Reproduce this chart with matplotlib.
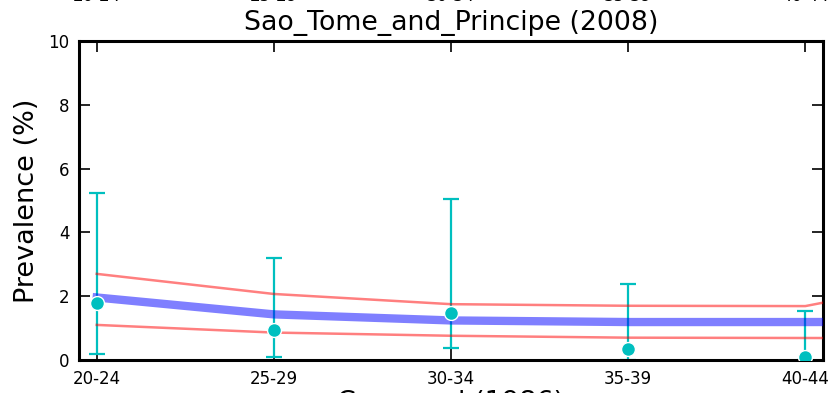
import numpy as np
import matplotlib
matplotlib.use("Agg")
import matplotlib.pyplot as plt

# age groups (the last one sits just past the right edge of the axes)
age_groups = ["20-24", "25-29", "30-34", "35-39", "40-44", "45-49"]

# model estimate (%) and its bounds
model_mid = [1.96, 1.43, 1.24, 1.19, 1.19, 1.20]
model_upper = [2.70, 2.07, 1.75, 1.70, 1.69, 2.76]
model_lower = [1.10, 0.86, 0.76, 0.70, 0.69, 0.68]

# survey observations (%) with confidence limits
obs_groups = ["20-24", "25-29", "30-34", "35-39", "40-44"]
obs_value = [1.80, 0.94, 1.48, 0.34, 0.10]
obs_low = [0.19, 0.10, 0.37, 0.00, 0.00]
obs_high = [5.22, 3.19, 5.05, 2.38, 1.55]

title = "Sao_Tome_and_Principe (2008)"
xlabel = "Censored (1986)"

W, H = 835, 393
fig = plt.figure(figsize=(W / 100, H / 100), dpi=100)
fig.patch.set_facecolor("white")

x_model = np.arange(len(age_groups))
x_obs = np.arange(len(obs_groups))


def px_box(left, top, right, bottom):
    return [left / W, 1 - bottom / H, (right - left) / W, (bottom - top) / H]


def style_axes(ax):
    for s in ax.spines.values():
        s.set_linewidth(2.2)
    ax.tick_params(direction="in", length=8, width=1.2, top=True, right=True,
                   labelsize=12, pad=7)


# neighbouring panel above, only the bottoms of its tick labels peek in
ax_prev = fig.add_axes(px_box(79, -340, 823, -23))
ax_prev.set_xlim(-0.1, 4.1)
ax_prev.set_xticks(x_obs)
ax_prev.set_xticklabels(obs_groups)
style_axes(ax_prev)

ax = fig.add_axes(px_box(79, 41, 823, 360))
style_axes(ax)

ax.errorbar(x_obs, obs_value,
            yerr=[np.array(obs_value) - np.array(obs_low),
                  np.array(obs_high) - np.array(obs_value)],
            fmt="none", ecolor="c", elinewidth=1.6, capsize=6, capthick=1.6,
            zorder=2)
ax.plot(x_model, model_upper, color="red", alpha=0.5, lw=1.8, zorder=3)
ax.plot(x_model, model_lower, color="red", alpha=0.5, lw=1.8, zorder=3)
ax.plot(x_model, model_mid, color="blue", alpha=0.5, lw=6, zorder=3)
ax.plot(x_obs, obs_value, "o", color="c", markeredgecolor="white",
        markeredgewidth=1, markersize=10, zorder=4)

ax.set_xlim(-0.1, 4.1)
ax.set_ylim(0, 10)
ax.set_yticks([0, 2, 4, 6, 8, 10])
ax.set_xticks(x_obs)
ax.set_xticklabels(obs_groups)
ax.set_title(title, fontsize=19.3, pad=8)
ax.set_ylabel("Prevalence (%)", fontsize=19.5, labelpad=6)
ax.set_xlabel(xlabel, fontsize=19.5, labelpad=2)

fig.savefig("out.png", dpi=100)
